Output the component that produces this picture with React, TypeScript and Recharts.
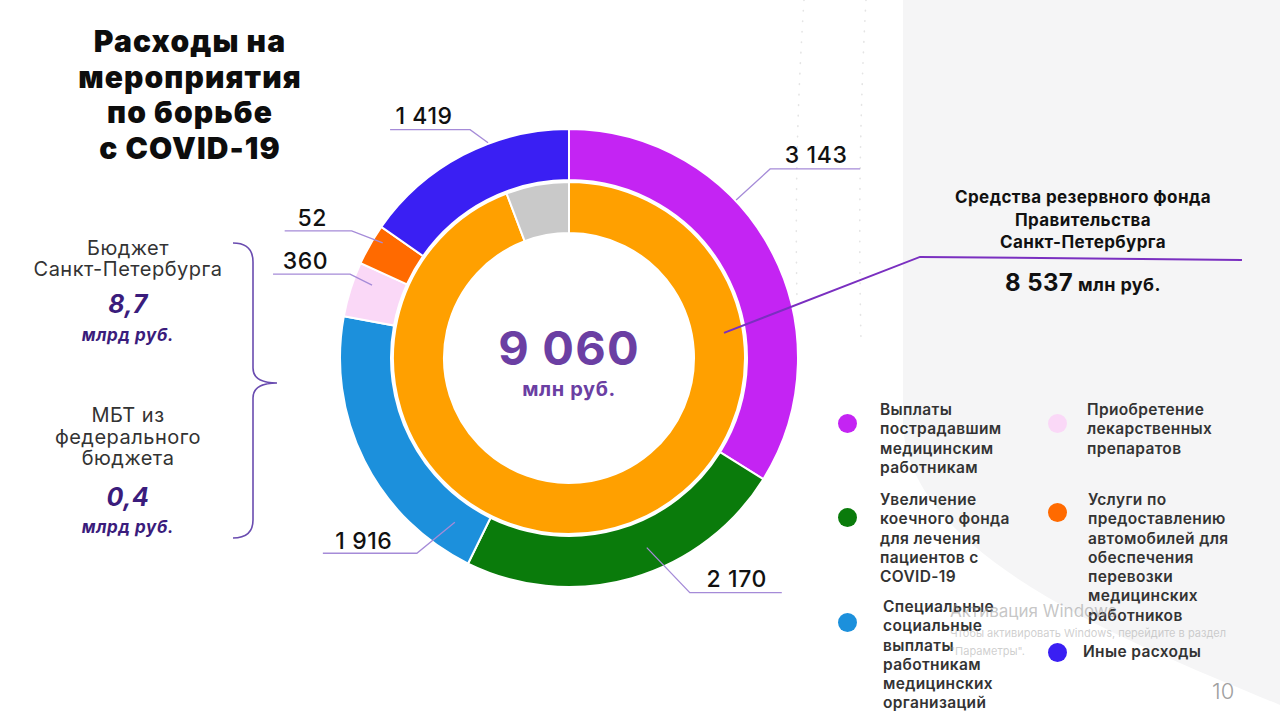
import React from "react";
import { PieChart, Pie, Cell } from "recharts";

// ---------- data ----------
const categories = [
  "Выплаты\nпострадавшим\nмедицинским\nработникам",
  "Увеличение\nкоечного фонда\nдля лечения\nпациентов с\nCOVID-19",
  "Специальные\nсоциальные\nвыплаты\nработникам\nмедицинских\nорганизаций",
  "Приобретение\nлекарственных\nпрепаратов",
  "Услуги по\nпредоставлению\nавтомобилей для\nобеспечения\nперевозки\nмедицинских\nработников",
  "Иные расходы",
];
// values printed on the labels (млн руб.)
const expenseValues = [3143, 2170, 1916, 360, 52, 1419];
// arc sizes as drawn in the source picture (its tiny 52 slice is shown enlarged)
const expenseArcValues = [3143, 2170, 1916, 360, 270, 1419];
const sourceNames = ["Средства резервного фонда\nПравительства\nСанкт-Петербурга", "Прочие источники"];
const sourceValues = [8537, 523];
const budgetNames = ["Бюджет\nСанкт-Петербурга", "МБТ из\nфедерального\nбюджета"];
const budgetValues = ["8,7", "0,4"];
const budgetUnit = "млрд руб.";
const unit = "млн руб.";
const titleText = "Расходы на\nмероприятия\nпо борьбе\nс COVID-19";

// ---------- styles ----------
const expenseColors = ["#C424F3", "#0A7B0B", "#1C90DC", "#FAD8F7", "#FF6A00", "#3A1FF3"];
const sourceColors = ["#FFA000", "#C9C9C9"];
const FONT = "Inter, 'Open Sans', 'DejaVu Sans', sans-serif";
const CX = 569;
const CY = 358;

// leader line layout for the outer ring labels (angle clockwise from 12 o'clock)
const outerLabelLayout = [
  { angle: 46.6, r: 230, ex: 34, ey: -31, len: 90, ty: -6 },
  { angle: 157.7, r: 205, ex: 43, ey: 45, len: 92, ty: -6 },
  { angle: 214.8, r: 200, ex: -38, ey: 31, len: -94, ty: -4 },
  { angle: 290.3, r: 210, ex: -22, ey: -11, len: -77, ty: -5 },
  { angle: 301.7, r: 219, ex: -31, ey: -12, len: -67, ty: -5 },
  { angle: 339.4, r: 230, ex: -18, ey: -13, len: -80, ty: -6 },
];

const legendLayout = [
  { dotX: 847, dotY: 423, textX: 880, textY: 400 },
  { dotX: 847, dotY: 517, textX: 880, textY: 490 },
  { dotX: 847, dotY: 622, textX: 883, textY: 597 },
  { dotX: 1057, dotY: 423, textX: 1087, textY: 400 },
  { dotX: 1057, dotY: 512, textX: 1088, textY: 490 },
  { dotX: 1057, dotY: 652, textX: 1083, textY: 642 },
];

const fmt = (n: number) => String(n).replace(/\B(?=(\d{3})+(?!\d))/g, " ");

const polar = (cx: number, cy: number, r: number, deg: number) => {
  const a = (deg * Math.PI) / 180;
  return { x: cx + r * Math.sin(a), y: cy - r * Math.cos(a) };
};

const expenseData = categories.map((name, i) => ({
  name,
  value: expenseValues[i],
  arc: expenseArcValues[i],
}));
const sourceData = sourceNames.map((name, i) => ({ name, value: sourceValues[i] }));
const total = expenseValues.reduce((a, b) => a + b, 0);

const renderOuterLabel = (props: any) => {
  const { index } = props;
  const value = expenseData[index].value;
  const cx = props.cx ?? CX;
  const cy = props.cy ?? CY;
  const L = outerLabelLayout[index];
  const a = polar(cx, cy, L.r, L.angle);
  const e = { x: a.x + L.ex, y: a.y + L.ey };
  const end = { x: e.x + L.len, y: e.y };
  const tx = e.x + L.len / 2 + (L.len > 0 ? 1 : -6);
  return (
    <g key={`ol-${index}`}>
      <polyline
        points={`${a.x},${a.y} ${e.x},${e.y} ${end.x},${end.y}`}
        fill="none"
        stroke="#A58BD8"
        strokeWidth={1.3}
      />
      <text
        x={tx}
        y={e.y + L.ty}
        textAnchor="middle"
        fontFamily={FONT}
        fontSize={23}
        fontWeight={500}
        letterSpacing={0.6}
        fill="#111"
      >
        {fmt(value)}
      </text>
    </g>
  );
};

const renderInnerLabel = (props: any) => {
  const { index } = props;
  if (index !== 0) return <g key={`il-${index}`} />;
  const cx = props.cx ?? CX;
  const cy = props.cy ?? CY;
  const a = polar(cx, cy, 157, 80.8);
  const e = { x: a.x + 196, y: a.y - 76 };
  const end = { x: e.x + 322, y: e.y + 3 };
  return (
    <g key={`il-${index}`}>
      <polyline
        points={`${a.x},${a.y} ${e.x},${e.y} ${end.x},${end.y}`}
        fill="none"
        stroke="#7A2FC0"
        strokeWidth={2}
      />
    </g>
  );
};

const abs = (extra: React.CSSProperties): React.CSSProperties => ({
  position: "absolute",
  fontFamily: FONT,
  whiteSpace: "pre-line",
  margin: 0,
  ...extra,
});

export default function App() {
  return (
    <div
      style={{
        position: "absolute",
        left: 0,
        top: 0,
        width: 1280,
        height: 720,
        background: "#ffffff",
        overflow: "hidden",
      }}
    >
      {/* background */}
      <svg width={1280} height={720} style={{ position: "absolute", left: 0, top: 0 }}>
        <path d="M903 0 H1280 V705 C1150 650 903 560 903 420 Z" fill="#F5F5F6" />
        <path d="M804 0 Q794 150 797 300" fill="none" stroke="#E4E4E4" strokeWidth={1.6} strokeDasharray="0.5 10" strokeLinecap="round" />
        <path d="M866 0 Q857 160 861 340" fill="none" stroke="#E4E4E4" strokeWidth={1.6} strokeDasharray="0.5 10" strokeLinecap="round" />
      </svg>

      {/* title */}
      <div
        style={abs({
          left: 40,
          top: 24,
          width: 300,
          textAlign: "center",
          fontSize: 30,
          fontWeight: 900,
          lineHeight: "35.5px",
          color: "#0d0d0d",
          letterSpacing: 1.1,
        })}
      >
        {titleText}
      </div>

      {/* left budget text */}
      <div style={abs({ left: 28, top: 238, width: 200, textAlign: "center", color: "#333", fontSize: 20, lineHeight: "21px", letterSpacing: 0.5 })}>
        {budgetNames[0]}
      </div>
      <div style={abs({ left: 28, top: 290, width: 200, textAlign: "center", color: "#3A1C7C", fontSize: 25, fontWeight: 700, fontStyle: "italic", lineHeight: "28px", letterSpacing: 0.5 })}>
        {budgetValues[0]}
      </div>
      <div style={abs({ left: 28, top: 324, width: 200, textAlign: "center", color: "#3A1C7C", fontSize: 17, fontWeight: 700, fontStyle: "italic", lineHeight: "22px", letterSpacing: 0.6 })}>
        {budgetUnit}
      </div>
      <div style={abs({ left: 28, top: 405, width: 200, textAlign: "center", color: "#333", fontSize: 20, lineHeight: "21.5px", letterSpacing: 0.5 })}>
        {budgetNames[1]}
      </div>
      <div style={abs({ left: 28, top: 483, width: 200, textAlign: "center", color: "#3A1C7C", fontSize: 25, fontWeight: 700, fontStyle: "italic", lineHeight: "28px", letterSpacing: 0.5 })}>
        {budgetValues[1]}
      </div>
      <div style={abs({ left: 28, top: 516, width: 200, textAlign: "center", color: "#3A1C7C", fontSize: 17, fontWeight: 700, fontStyle: "italic", lineHeight: "22px", letterSpacing: 0.6 })}>
        {budgetUnit}
      </div>
      <svg width={1280} height={720} style={{ position: "absolute", left: 0, top: 0 }}>
        <path
          d="M233 243 Q253 243 253 262 L253 368 Q253 383 277 383 Q253 383 253 398 L253 520 Q253 538 233 538"
          fill="none"
          stroke="#6A4CB0"
          strokeWidth={1.6}
        />
      </svg>

      {/* chart */}
      <div style={{ position: "absolute", left: 0, top: 0 }}>
        <PieChart width={1280} height={720} margin={{ top: 0, right: 0, bottom: 0, left: 0 }}>
          <Pie
            data={sourceData}
            dataKey="value"
            cx={CX}
            cy={CY}
            innerRadius={125}
            outerRadius={176}
            startAngle={90}
            endAngle={-270}
            stroke="#ffffff"
            strokeWidth={2}
            isAnimationActive={false}
            label={renderInnerLabel}
            labelLine={false}
          >
            {sourceData.map((d, i) => (
              <Cell key={d.name} fill={sourceColors[i]} />
            ))}
          </Pie>
          <Pie
            data={expenseData}
            dataKey="arc"
            cx={CX}
            cy={CY}
            innerRadius={178}
            outerRadius={229}
            startAngle={90}
            endAngle={-270}
            stroke="#ffffff"
            strokeWidth={2}
            isAnimationActive={false}
            label={renderOuterLabel}
            labelLine={false}
          >
            {expenseData.map((d, i) => (
              <Cell key={d.name} fill={expenseColors[i]} />
            ))}
          </Pie>
        </PieChart>
      </div>

      {/* center total */}
      <div style={abs({ left: CX - 120, top: 320, width: 240, textAlign: "center", color: "#6B3FA3", fontSize: 47, fontWeight: 700, lineHeight: "56px", letterSpacing: 1.2 })}>
        {fmt(total)}
      </div>
      <div style={abs({ left: CX - 120, top: 376, width: 240, textAlign: "center", color: "#6B3FA3", fontSize: 20, fontWeight: 700, lineHeight: "26px", letterSpacing: 0.6 })}>
        {unit}
      </div>

      {/* reserve fund */}
      <div style={abs({ left: 933, top: 186, width: 300, textAlign: "center", color: "#111", fontSize: 17, fontWeight: 700, lineHeight: "22.5px", letterSpacing: 0.4 })}>
        {sourceNames[0]}
      </div>
      <div style={abs({ left: 933, top: 267, width: 300, textAlign: "center", color: "#111", fontWeight: 700, lineHeight: "32px", letterSpacing: 0.4 })}>
        <span style={{ fontSize: 24 }}>{fmt(sourceValues[0])}</span>
        <span style={{ fontSize: 18 }}> {unit}</span>
      </div>

      {/* legend */}
      {categories.map((c, i) => {
        const L = legendLayout[i];
        return (
          <React.Fragment key={c}>
            <div
              style={{
                position: "absolute",
                left: L.dotX - 9.5,
                top: L.dotY - 9.5,
                width: 19,
                height: 19,
                borderRadius: "50%",
                background: expenseColors[i],
              }}
            />
            <div
              style={abs({
                left: L.textX,
                top: L.textY,
                color: "#333",
                fontSize: 15.5,
                fontWeight: 600,
                lineHeight: "19.3px",
                letterSpacing: 0.35,
              })}
            >
              {c}
            </div>
          </React.Fragment>
        );
      })}

      {/* watermark & page number */}
      <div style={abs({ left: 950, top: 600, color: "rgba(150,150,150,0.55)", fontSize: 17, lineHeight: "22px" })}>
        Активация Windows
      </div>
      <div style={abs({ left: 950, top: 624, color: "rgba(160,160,160,0.5)", fontSize: 11, lineHeight: "18px" })}>
        {"Чтобы активировать Windows, перейдите в раздел\n\"Параметры\"."}
      </div>
      <div style={abs({ left: 1212, top: 678, color: "#A0A0A0", fontSize: 22, fontWeight: 300, lineHeight: "26px" })}>
        10
      </div>
    </div>
  );
}
